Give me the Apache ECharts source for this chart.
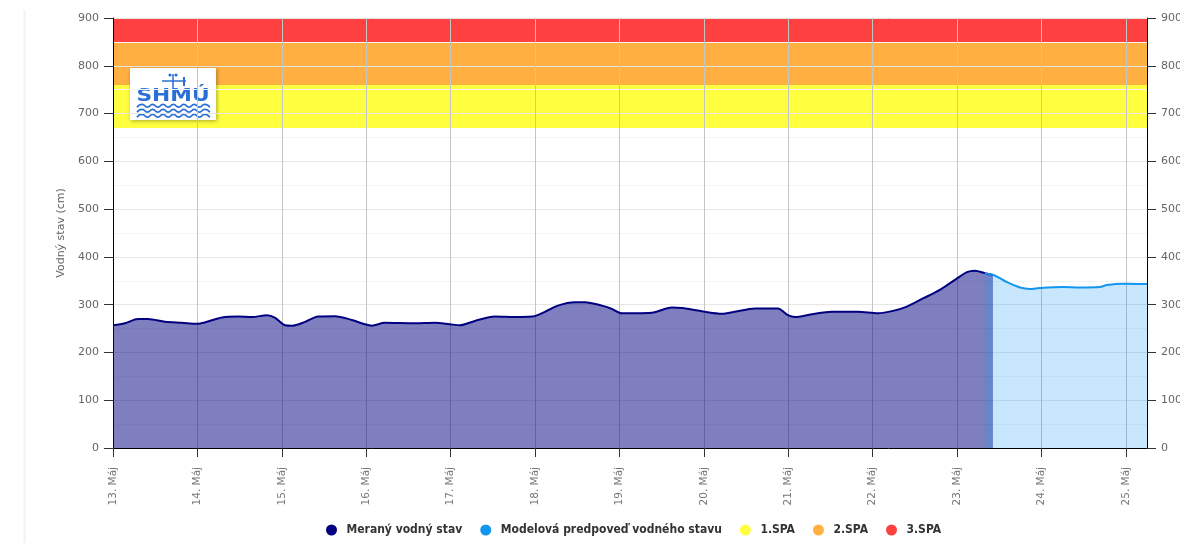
<!DOCTYPE html>
<html>
<head>
<meta charset="utf-8">
<script src="https://cdn.jsdelivr.net/npm/echarts@6/dist/echarts.min.js"></script>
<style>
html, body { margin: 0; padding: 0; background: #fff; }
#chart { width: 1180px; height: 543px; }
</style>
</head>
<body>
<div id="chart"></div>
<script>
// x = hodiny od 13. Máj 00:00
var measuredHours = [0, 3.4, 7.1, 10, 14.8, 19.6, 23.9, 26.2, 31, 35.5, 39.5, 43.8, 46, 48.9, 50.9, 54.6, 58.3, 63.1, 67.9, 71.6, 73.6,
    77.3, 85.9, 91.5, 95.8, 98.6, 102.9, 108.6, 114.3, 119.1, 122.8, 126.5, 131.3, 134.2, 139, 141.9, 144.7, 148.4,
    153.2, 158.9, 161.8, 168.3, 173.1, 176.8, 182.5, 189, 191.9, 193.9, 198.7, 204.4, 211.8, 217.5, 221.8, 225.7,
    230.3, 235.1, 240, 242.8, 245.1, 247.9, 250.2];
var measuredLevel = [257, 261, 270, 270, 264, 262, 260, 263, 273, 275, 274, 278, 273, 257, 256, 264, 275, 276, 268, 259, 256,
    262, 261, 262, 259, 257, 266, 275, 274, 275, 285, 298, 305, 305, 298, 291, 282, 282,
    283, 294, 293, 285, 281, 285, 292, 292, 278, 274, 280, 285, 285, 282, 287, 296,
    313, 331, 355, 368, 371, 366, 362];
var forecastHours = [247.9, 250.7, 254.2, 257.9, 260.7, 263.5, 270.1, 274.9, 280.6, 282.6, 287.1, 294];
var forecastLevel = [366, 361, 347, 336, 333, 335, 337, 336, 337, 341, 344, 343];

var firstDay = 13;
var monthName = 'Máj';
var xMax = 294;

var spaNames = ['1.SPA', '2.SPA', '3.SPA'];
var spaFrom = [670, 760, 850];
var spaTo = [760, 850, 900];
var spaColors = ['#ffff40', '#ffb040', '#ff4040'];

function pairs(xs, ys) {
    return xs.map(function (x, i) { return [x, ys[i]]; });
}

// vlnky v logu
function wave(y) {
    var pts = [];
    for (var i = 0; i <= 14; i++) pts.push([137 + i * 5.2, y + (i % 2 ? -1.6 : 1.2)]);
    return {
        type: 'polyline',
        shape: { points: pts, smooth: 0.6 },
        style: { stroke: '#2a6fd6', lineWidth: 1.7, fill: null }
    };
}

var mychart = echarts.init(document.getElementById('chart'));

var series = [{
    name: 'Meraný vodný stav',
    type: 'line',
    showSymbol: false,
    smooth: 0.3,
    color: '#000080',
    lineStyle: { width: 2, color: '#000080' },
    areaStyle: { color: '#000080', opacity: 0.5, origin: 'start' },
    z: 3,
    data: pairs(measuredHours, measuredLevel)
}, {
    name: 'Modelová predpoveď vodného stavu',
    type: 'line',
    showSymbol: false,
    smooth: 0.3,
    color: '#1296f0',
    lineStyle: { width: 2, color: '#1296f0' },
    areaStyle: { color: '#1296f0', opacity: 0.23, origin: 'start' },
    z: 4,
    data: pairs(forecastHours, forecastLevel)
}];

spaNames.forEach(function (n, i) {
    series.push({
        name: n,
        type: 'line',
        color: spaColors[i],
        data: [],
        z: -1,
        markArea: {
            silent: true,
            z: -1,
            itemStyle: { color: spaColors[i], opacity: 1 },
            data: [[{ yAxis: spaFrom[i] }, { yAxis: spaTo[i] }]]
        }
    });
});

var yAxisBase = {
    type: 'value',
    min: 0,
    max: 900,
    interval: 100,
    axisLine: { show: true, lineStyle: { color: '#000', width: 1 } },
    axisTick: { show: true, length: 9, lineStyle: { color: '#333' } },
    axisLabel: { color: '#666', fontSize: 11, fontFamily: 'DejaVu Sans', margin: 14 }
};

mychart.setOption({
    animation: false,
    textStyle: { fontFamily: 'DejaVu Sans' },
    grid: { left: 113, right: 33, top: 18, bottom: 95, outerBoundsMode: 'none', containLabel: false },
    legend: {
        top: 519,
        left: 321,
        icon: 'circle',
        itemWidth: 20,
        itemHeight: 11,
        itemGap: 18,
        textStyle: { color: '#333', fontSize: 12, fontWeight: 'bold', fontFamily: 'DejaVu Sans Condensed' },
        data: ['Meraný vodný stav', 'Modelová predpoveď vodného stavu'].concat(spaNames)
    },
    xAxis: {
        type: 'value',
        min: 0,
        max: xMax,
        interval: 24,
        axisLine: { onZero: false, lineStyle: { color: '#000', width: 1 } },
        axisTick: { show: true, length: 9, lineStyle: { color: '#333' } },
        splitLine: { show: true, lineStyle: { color: '#c4c4c4', width: 1 } },
        axisLabel: {
            rotate: 90,
            color: '#777',
            fontSize: 10.5,
            margin: 19,
            showMaxLabel: false,
            formatter: function (v) {
                if (v % 24 !== 0) return '';
                return (firstDay + v / 24) + '. ' + monthName;
            }
        }
    },
    yAxis: [
        Object.assign({}, yAxisBase, {
            position: 'left',
            name: 'Vodný stav (cm)',
            nameLocation: 'middle',
            nameGap: 46,
            nameTextStyle: { color: '#666', fontSize: 11 },
            splitLine: { show: true, lineStyle: { color: '#e6e6e6' } },
            minorTick: { show: false, splitNumber: 2 },
            minorSplitLine: { show: true, lineStyle: { color: '#f4f4f4' } }
        }),
        Object.assign({}, yAxisBase, {
            position: 'right',
            splitLine: { show: false }
        })
    ],
    graphic: [{
        type: 'line',
        silent: true,
        shape: { x1: 24.5, y1: 10, x2: 24.5, y2: 543 },
        style: { stroke: '#eef3f9', lineWidth: 2 }
    }, {
        type: 'group',
        silent: true,
        children: [{
            type: 'rect',
            shape: { x: 130, y: 68, width: 86, height: 52 },
            style: { fill: '#fff', shadowBlur: 4, shadowOffsetX: 1, shadowOffsetY: 1, shadowColor: 'rgba(0,0,0,0.35)' }
        }, {
            type: 'line',
            shape: { x1: 162, y1: 81, x2: 186, y2: 81 },
            style: { stroke: '#2a6fd6', lineWidth: 1.5 }
        }, {
            type: 'line',
            shape: { x1: 173, y1: 74, x2: 173, y2: 88 },
            style: { stroke: '#2a6fd6', lineWidth: 1.5 }
        }, {
            type: 'line',
            shape: { x1: 184, y1: 77, x2: 184, y2: 86 },
            style: { stroke: '#2a6fd6', lineWidth: 2 }
        }, {
            type: 'circle',
            shape: { cx: 170, cy: 75, r: 1.6 },
            style: { fill: '#2a6fd6' }
        }, {
            type: 'circle',
            shape: { cx: 176, cy: 75, r: 1.6 },
            style: { fill: '#2a6fd6' }
        }, {
            type: 'text',
            x: 173,
            y: 97,
            scaleX: 1.28,
            style: {
                text: 'SHMÚ',
                fill: '#2a6fd6',
                font: 'bold 17px "DejaVu Sans"',
                align: 'center',
                verticalAlign: 'middle'
            }
        }, wave(106), wave(111), wave(116)]
    }],
    series: series
});
</script>
</body>
</html>
